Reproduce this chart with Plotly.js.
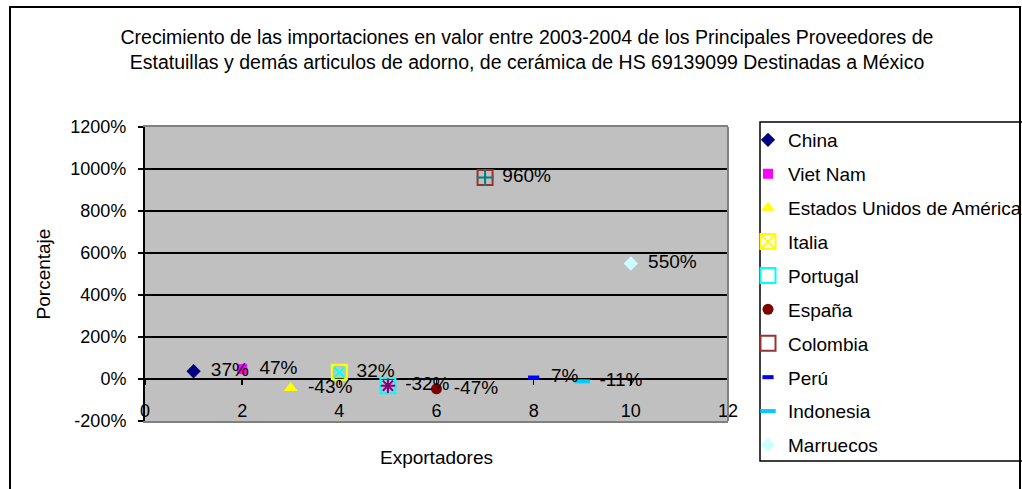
<!DOCTYPE html>
<html>
<head>
<meta charset="utf-8">
<script src="https://cdn.plot.ly/plotly-3.0.1.min.js"></script>
<style>
  html, body { margin: 0; padding: 0; background: #fff; }
  #wrap { position: relative; width: 1022px; height: 489px; overflow: hidden; }
  #chart { width: 1022px; height: 489px; }
  #frame { position: absolute; left: 9px; top: 6px; width: 1008px; height: 600px; border: 2px solid #000; pointer-events: none; }
</style>
</head>
<body>
<div id="wrap"><div id="chart"></div><div id="frame"></div></div>
<script>
// ---- data ----
const countries = ['China', 'Viet Nam', 'Estados Unidos de América', 'Italia', 'Portugal', 'España', 'Colombia', 'Perú', 'Indonesia', 'Marruecos'];
const exporterIndex = [1, 2, 3, 4, 5, 6, 7, 8, 9, 10];
const growth = [0.37, 0.47, -0.43, 0.32, -0.32, -0.47, 9.60, 0.07, -0.11, 5.50];
const growthLabels = ['37%', '47%', '-43%', '32%', '-32%', '-47%', '960%', '7%', '-11%', '550%'];
const yTickVals = [-2, 0, 2, 4, 6, 8, 10, 12];
const yTickText = ['-200%', '0%', '200%', '400%', '600%', '800%', '1000%', '1200%'];
const xTickVals = [0, 2, 4, 6, 8, 10, 12];
const xTickText = ['0', '2', '4', '6', '8', '10', '12'];

// ---- styles (per series) ----
const styles = [
  {symbol: 'diamond', color: '#000080', size: 11},
  {symbol: 'square', color: '#FF00FF', size: 10},
  {symbol: 'triangle-up', color: '#FFFF00', size: 12},
  {symbol: 'square-x-open', color: '#FFFF00', size: 15, lw: 2, inner: {symbol: 'x-thin-open', color: '#00FFFF', size: 11, lw: 2}},
  {symbol: 'square-open', color: '#00FFFF', size: 15, lw: 2, inner: {symbol: 'asterisk-open', color: '#800080', size: 12, lw: 2}},
  {symbol: 'circle', color: '#800000', size: 11},
  {symbol: 'square-open', color: '#993333', size: 15, lw: 2, inner: {symbol: 'cross-thin-open', color: '#008080', size: 12, lw: 2}},
  {symbol: 'line-ew-open', color: '#0000FF', size: 8, lw: 4},
  {symbol: 'line-ew-open', color: '#00CCFF', size: 11, lw: 4},
  {symbol: 'diamond', color: '#CCFFFF', size: 11}
];

const FONT = 'Liberation Sans, Arial, sans-serif';
const traces = [];
countries.forEach((name, i) => {
  const s = styles[i];
  traces.push({
    type: 'scatter', mode: 'markers', name: name,
    legendgroup: 'g' + i,
    x: [exporterIndex[i]], y: [growth[i]],
    marker: {symbol: s.symbol, color: s.color, size: s.size,
             line: {width: s.lw || 0, color: s.color}},
    cliponaxis: false, hoverinfo: 'skip'
  });
});
// inner glyphs of the two-colour markers
countries.forEach((name, i) => {
  const s = styles[i];
  if (!s.inner) return;
  traces.push({
    type: 'scatter', mode: 'markers', name: name + ' ', showlegend: false,
    legendgroup: 'g' + i, xaxis: 'x2',
    x: [exporterIndex[i]], y: [growth[i]],
    marker: {symbol: s.inner.symbol, color: s.inner.color, size: s.inner.size,
             line: {width: s.inner.lw, color: s.inner.color}},
    cliponaxis: false, hoverinfo: 'skip'
  });
});
// data labels (invisible spacer marker gives a constant offset)
traces.push({
  type: 'scatter', mode: 'markers+text', showlegend: false, xaxis: 'x2',
  x: exporterIndex, y: growth, text: growthLabels, textposition: 'middle right',
  textfont: {family: FONT, size: 19, color: '#000'},
  marker: {size: 26, opacity: 0}, cliponaxis: false, hoverinfo: 'skip'
});
// carrier for the tick-label axis
traces.push({type: 'scatter', mode: 'markers', showlegend: false, xaxis: 'x3', x: [], y: [], hoverinfo: 'skip'});

const layout = {
  width: 1022, height: 489,
  margin: {l: 145, r: 294, t: 127, b: 68, autoexpand: false},
  paper_bgcolor: '#ffffff',
  plot_bgcolor: '#C0C0C0',
  font: {family: FONT, size: 18, color: '#000'},
  showlegend: true,
  title: {
    text: 'Crecimiento de las importaciones en valor entre 2003-2004 de los Principales Proveedores de<br>Estatuillas y demás articulos de adorno, de cerámica de HS 69139099 Destinadas a México',
    font: {family: FONT, size: 19.5, color: '#000'},
    x: 527 / 1022, xanchor: 'center', xref: 'container',
    y: 1 - 43.5 / 489, yanchor: 'middle', yref: 'container'
  },
  xaxis: {
    range: [0, 12], tickvals: xTickVals,
    showgrid: false, zeroline: false,
    showline: true, linecolor: '#808080', linewidth: 2, mirror: true,
    ticks: '', showticklabels: false,
    title: {text: 'Exportadores', font: {family: FONT, size: 19, color: '#000'}, standoff: 29},
    automargin: false, fixedrange: true
  },
  xaxis2: {
    range: [0, 12], tickvals: xTickVals, overlaying: 'x', anchor: 'free',
    position: 2 / 14, side: 'bottom',
    showgrid: false, zeroline: false, showline: false,
    ticks: 'outside', ticklen: 5, tickwidth: 1.5, tickcolor: '#000',
    showticklabels: false, automargin: false, fixedrange: true
  },
  xaxis3: {
    range: [0, 12], tickvals: xTickVals, ticktext: xTickText, overlaying: 'x', anchor: 'free',
    position: 23 / 294, side: 'bottom',
    showgrid: false, zeroline: false, showline: false, ticks: '',
    tickfont: {family: FONT, size: 18, color: '#000'},
    automargin: false, fixedrange: true
  },
  yaxis: {
    range: [-2, 12], tickvals: yTickVals, ticktext: yTickText,
    showgrid: true, gridcolor: '#000', gridwidth: 1.5, zeroline: false,
    showline: true, linecolor: '#000', linewidth: 2,
    ticks: 'outside', ticklen: 5, tickwidth: 1.5, tickcolor: '#000',
    ticklabelstandoff: 8,
    tickfont: {family: FONT, size: 18, color: '#000'},
    title: {text: 'Porcentaje', font: {family: FONT, size: 19, color: '#000'}, standoff: 15},
    automargin: false, fixedrange: true
  },
  shapes: [
    {type: 'line', xref: 'paper', yref: 'paper', x0: 1, x1: 1, y0: 0, y1: 1,
     line: {color: '#808080', width: 2}, layer: 'above'},
    {type: 'rect', xref: 'paper', yref: 'paper',
     x0: (760 - 145) / 583, x1: 2, y0: (421 - 461) / 294, y1: (421 - 122) / 294,
     line: {color: '#000', width: 1.5}, fillcolor: 'rgba(0,0,0,0)', layer: 'below'}
  ],
  legend: {
    x: (748 - 145) / 583, xref: 'paper', xanchor: 'left',
    y: 1 - 121 / 489, yref: 'container', yanchor: 'top',
    maxheight: 420,
    bgcolor: 'rgba(0,0,0,0)', borderwidth: 0,
    font: {family: FONT, size: 19, color: '#000'},
    traceorder: 'grouped', tracegroupgap: 6.2
  }
};

Plotly.newPlot('chart', traces, layout, {staticPlot: true, displayModeBar: false});
</script>
</body>
</html>
